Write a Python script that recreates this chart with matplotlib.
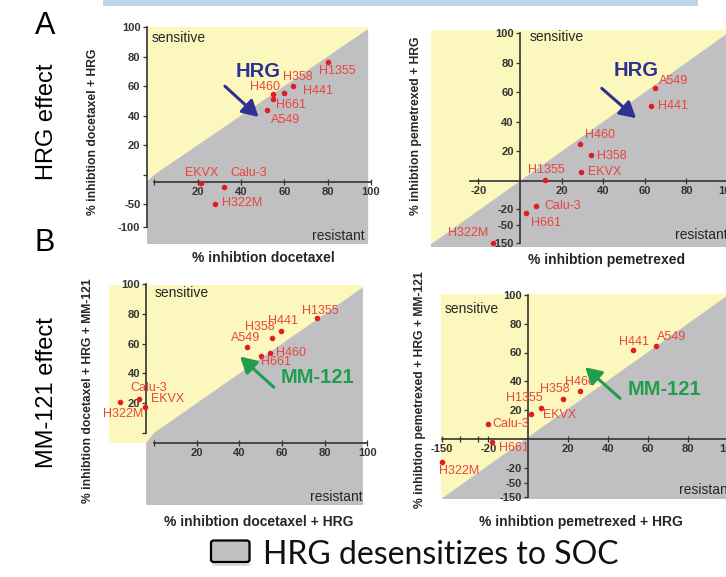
import numpy as np
import matplotlib.pyplot as plt
from matplotlib.patches import Polygon, Rectangle, FancyBboxPatch

plt.rcParams['font.family'] = ['Liberation Sans', 'DejaVu Sans']

W, H = 726, 577

cells = ['H1355', 'H441', 'H358', 'H460', 'H661', 'A549', 'EKVX', 'Calu-3', 'H322M']

# A: HRG effect
docetaxel = [80, 64, 60, 55, 55, 52, 21.5, 32, 28]
docetaxel_hrg = [76, 60, 55.5, 54.5, 51, 44, -3.5, -13, -50]
pemetrexed = [12, 63, 34, 29, 3, 65, 29.5, 7.5, -13]
pemetrexed_hrg = [1, 51, 17.5, 25, -27, 63, 6, -18, -150]

# B: MM-121 effect
docetaxel_hrg_b = [76.5, 59.5, 55.5, 54.5, 50, 43.5, -4.5, -7, -16]
docetaxel_hrg_mm = [77, 68.5, 64, 54, 51.5, 58, 17.5, 23, 21]
pemetrexed_hrg_b = [1.5, 52.5, 17.5, 26, -18, 64, 6.5, -22, -150]
pemetrexed_hrg_mm = [17, 61.5, 27.5, 33.5, -2.5, 64.5, 21.5, 10.5, -15.5]

YELLOW = '#fbf7bd'
GRAY = '#c0c0c2'
DOT = '#e31b23'
LAB = '#e8453c'
INK = '#262626'
NAVY = '#2e3192'
GREEN = '#1f9e4e'


def piecewise(dp, sp):
    def make(a, b):
        a = np.asarray(a, float)
        b = np.asarray(b, float)

        def f(v):
            v = np.asarray(v, float)
            out = np.interp(v, a, b)
            lo = b[0] + (v - a[0]) * (b[1] - b[0]) / (a[1] - a[0])
            hi = b[-1] + (v - a[-1]) * (b[-1] - b[-2]) / (a[-1] - a[-2])
            return np.where(v < a[0], lo, np.where(v > a[-1], hi, out))
        return f
    return make(dp, sp), make(sp, dp)


def fp(x, y):
    return (x / W, 1 - y / H)


# label offsets in pixels (dx, dy, ha), one per cell line
off_al = [(-9, -9, 'left'), (10, -4.5, 'left'), (-1, 15.5, 'left'), (6.7, 7.3, 'right'),
          (3, -5.7, 'left'), (4, -10, 'left'), (1, 10.5, 'center'), (6.7, 14.8, 'left'),
          (7, 1.5, 'left')]
off_ar = [(1.6, 9.8, 'center'), (7.3, 0, 'left'), (6.7, -1, 'left'), (5, 9, 'left'),
          (5, -10.6, 'left'), (3.3, 6.7, 'left'), (6.7, 0, 'left'), (8.3, 0, 'left'),
          (-5, 10, 'right')]
off_bl = [(3.3, 7.8, 'center'), (2, 10.5, 'center'), (1.7, 10.3, 'right'), (5.6, -0.8, 'left'),
          (0.6, -6, 'left'), (-1.3, 8.8, 'center'), (6.7, 7.5, 'left'), (-9.3, 10.3, 'left'),
          (2.8, -12.3, 'center')]
off_br = [(-6.5, 16, 'center'), (0.7, 8.5, 'center'), (-8.8, 10.6, 'center'), (0, 9, 'center'),
          (6.7, -6, 'left'), (1, 9.3, 'left'), (1.7, -7, 'left'), (5, 0, 'left'),
          (-2.7, -9.7, 'left')]

panels = [
    dict(box=(146.7, 371, 27, 244), x0=154.4, xu=2.195, y0=174.6, yu=1.479,
         xs=([0, 100], [0, 100]), ys=([-100, -1, 0, 100], [-35.2, -4.9, 0, 100]),
         x=docetaxel, y=docetaxel_hrg, off=off_al, kind='gap',
         lspine=(-3.5, (-100, 100)), bspine=(-1, (0, 100)),
         xt=[0, 20, 40, 60, 80, 100], xtl=['', '20', '40', '60', '80', '100'],
         yt=[-100, -50, 0, 20, 40, 60, 80, 100],
         ytl=['-100', '-50', '', '20', '40', '60', '80', '100'],
         arrow=((32.6, 59.9), (48.1, 39.1)), atext=(48.1, 70), aname='HRG', acol=NAVY),
    dict(box=(430.7, 745, 30, 247), x0=520, xu=2.08, y0=181, yu=1.48,
         xs=([0, 100], [0, 100]), ys=([-150, -50, -20, 0, 100], [-41.9, -29.7, -18.9, 0, 100]),
         x=pemetrexed, y=pemetrexed_hrg, off=off_ar, kind='full',
         lspine=(0, (-150, 100)), bspine=(0, (-24, 115)),
         xt=[-20, 20, 40, 60, 80, 100], xtl=['-20', '20', '40', '60', '80', '100'],
         yt=[-150, -50, -20, 20, 40, 60, 80, 100],
         ytl=['-150', '-50', '-20', '20', '40', '60', '80', '100'],
         arrow=((39.3, 62.6), (55.8, 42.4)), atext=(55.8, 75), aname='HRG', acol=NAVY),
    dict(box=(109.3, 367.3, 284.3, 505), x0=155, xu=2.1675, y0=432.5, yu=1.4925,
         xs=([0, 100], [0, 100]), ys=([-100, -1, 0, 100], [-36.9, -6.6, 0, 100]),
         x=docetaxel_hrg_b, y=docetaxel_hrg_mm, off=off_bl, kind='gap',
         lspine=(-3.8, (0, 100)), bspine=(-1, (0, 100)),
         xt=[0, 20, 40, 60, 80, 100], xtl=['', '20', '40', '60', '80', '100'],
         yt=[0, 20, 40, 60, 80, 100], ytl=['', '20', '40', '60', '80', '100'],
         arrow=((56.1, 30.7), (40.3, 51.3)), atext=(76.4, 37.2), aname='MM-121', acol=GREEN),
    dict(box=(440.7, 745, 294.3, 499.3), x0=528.3, xu=2.0, y0=438.75, yu=1.4375,
         xs=([-150, -20, 0, 100], [-43.3, -20, 0, 100]),
         ys=([-150, -50, -20, 0, 100], [-40.7, -30.6, -20.6, 0, 100]),
         x=pemetrexed_hrg_b, y=pemetrexed_hrg_mm, off=off_br, kind='full',
         lspine=(0, (-150, 100)), bspine=(0, (-150, 115)),
         xt=[-150, -20, 20, 40, 60, 80, 100], xtl=['-150', '-20', '20', '40', '60', '80', '100'],
         yt=[-150, -50, -20, 20, 40, 60, 80, 100],
         ytl=['-150', '-50', '-20', '20', '40', '60', '80', '100'],
         arrow=((45.9, 28.1), (28.4, 49.7)), atext=(67.9, 34.6), aname='MM-121', acol=GREEN),
]

fig = plt.figure(figsize=(W / 100, H / 100), dpi=100)

for p in panels:
    l, r, t, b = p['box']
    ax = fig.add_axes([l / W, 1 - b / H, (r - l) / W, (b - t) / H])
    ax.patch.set_visible(False)
    fx, ix = piecewise(*p['xs'])
    fy, iy = piecewise(*p['ys'])
    ax.set_xscale('function', functions=(fx, ix))
    ax.set_yscale('function', functions=(fy, iy))
    sxl, sxr = (l - p['x0']) / p['xu'], (r - p['x0']) / p['xu']
    syt, syb = (p['y0'] - t) / p['yu'], (p['y0'] - b) / p['yu']
    ax.set_xlim(float(ix(sxl)), float(ix(sxr)))
    ax.set_ylim(float(iy(syb)), float(iy(syt)))

    def to_data(pts):
        return [(float(ix(a)), float(iy(c))) for a, c in pts]

    d = min(sxr, syt)
    top_right = [(d, d)] + ([(sxr, syt)] if d < sxr else [])
    if p['kind'] == 'gap':
        sy_gap = float(fy(-1))
        sx_sp = float(fx(p['lspine'][0]))
        yel = [(sxl, sy_gap), (sxl, syt), (sxr, syt), (sxr, sy_gap)]
        gry = [(sx_sp, syb), (sx_sp, sy_gap), (0, 0)] + top_right + [(sxr, syb)]
    else:
        yel = [(sxl, syb), (sxl, syt), (sxr, syt), (sxr, syb)]
        gry = [(sxl, syb), (sxl, max(sxl, syb))] + top_right + [(sxr, syb)]
    ax.add_patch(Polygon(to_data(yel), closed=True, fc=YELLOW, ec='none', zorder=0))
    ax.add_patch(Polygon(to_data(gry), closed=True, fc=GRAY, ec='none', zorder=0.5))

    for s in ['top', 'right']:
        ax.spines[s].set_visible(False)
    ax.spines['left'].set_position(('data', p['lspine'][0]))
    ax.spines['left'].set_bounds(*p['lspine'][1])
    ax.spines['bottom'].set_position(('data', p['bspine'][0]))
    ax.spines['bottom'].set_bounds(*p['bspine'][1])
    for s in ['left', 'bottom']:
        ax.spines[s].set_color('#333333')
        ax.spines[s].set_linewidth(1.2)

    ax.set_xticks(p['xt'], labels=p['xtl'], fontweight='bold')
    ax.set_yticks(p['yt'], labels=p['ytl'], fontweight='bold')
    if p['kind'] == 'full' and p['xs'][0][0] < -100:
        ax.set_xticks([-100, -50], minor=True)
    ax.tick_params(which='both', length=3, width=0.9, color='#333333',
                   labelsize=8, labelcolor='#333333', pad=1.5)
    ax.tick_params(axis='x', which='both', direction='inout', length=4)

    ax.scatter(p['x'], p['y'], s=16, c=DOT, linewidths=0, zorder=4, clip_on=False)
    for name, xv, yv, (dx, dy, ha) in zip(cells, p['x'], p['y'], p['off']):
        ax.annotate(name, (xv, yv), xytext=(dx * 0.72, dy * 0.72), textcoords='offset points',
                    ha=ha, va='center', color=LAB, fontsize=9, zorder=5)

    ax.annotate('', xy=p['arrow'][1], xytext=p['arrow'][0],
                arrowprops=dict(arrowstyle='-|>,head_length=0.8,head_width=0.45',
                                color=p['acol'], lw=2.2, shrinkA=0, shrinkB=0,
                                mutation_scale=12), zorder=6)
    ax.text(*p['atext'], p['aname'], color=p['acol'], fontsize=14.5, fontweight='bold',
            ha='center', va='center', zorder=6)

# corner texts
for (x, y, ha, s) in [(151.7, 38, 'left', 'sensitive'), (530, 37, 'left', 'sensitive'),
                      (155, 293, 'left', 'sensitive'), (445, 308.7, 'left', 'sensitive'),
                      (365, 235.5, 'right', 'resistant'), (675, 235, 'left', 'resistant'),
                      (363, 497, 'right', 'resistant'), (679, 490, 'left', 'resistant')]:
    fig.text(*fp(x, y), s, ha=ha, va='center', fontsize=10, color=INK)

# axis titles
bold = dict(fontweight='bold', color=INK, ha='center', va='center')
fig.text(*fp(263, 258.3), '% inhibtion docetaxel', fontsize=10, **bold)
fig.text(*fp(607, 260), '% inhibtion pemetrexed', fontsize=10, **bold)
fig.text(*fp(258.5, 521.7), '% inhibtion docetaxel + HRG', fontsize=10, **bold)
fig.text(*fp(581, 521.7), '% inhibtion pemetrexed + HRG', fontsize=10, **bold)
fig.text(*fp(92.5, 132), '% inhibtion docetaxel + HRG', fontsize=8.7, rotation=90, **bold)
fig.text(*fp(416, 126), '% inhibtion pemetrexed + HRG', fontsize=8.7, rotation=90, **bold)
fig.text(*fp(88, 391), '% inhibtion docetaxel + HRG + MM-121', fontsize=8.7, rotation=90, **bold)
fig.text(*fp(420, 390), '% inhibtion pemetrexed + HRG + MM-121', fontsize=8.7, rotation=90, **bold)

# panel letters and row titles
fig.text(*fp(45, 26), 'A', fontsize=22, ha='center', va='center', color='black')
fig.text(*fp(45, 243), 'B', fontsize=22, ha='center', va='center', color='black')
fig.text(*fp(47, 122), 'HRG effect', fontsize=17, rotation=90, ha='center', va='center')
fig.text(*fp(47, 393), 'MM-121 effect', fontsize=17, rotation=90, ha='center', va='center')

# top banner strip
fig.patches.append(Rectangle(fp(103, 5.5), 595 / W, 5.5 / H, transform=fig.transFigure,
                             fc='#bcd6ea', ec='none'))

# legend box with shadow
fig.patches.append(FancyBboxPatch(fp(212, 566), 38.5 / W, 21.5 / H, transform=fig.transFigure,
                                  boxstyle='round,pad=0,rounding_size=0.004',
                                  fc='#9a9a9a', ec='none', alpha=0.35))
fig.patches.append(FancyBboxPatch(fp(211, 562), 38.5 / W, 21.5 / H, transform=fig.transFigure,
                                  boxstyle='round,pad=0,rounding_size=0.004',
                                  fc='#c0c0c0', ec='black', lw=1.6))
fig.text(*fp(263, 555), 'HRG desensitizes to SOC', fontsize=23, ha='left', va='center',
         color='#111111', family=['Lato', 'DejaVu Sans'])

fig.savefig('out.png', dpi=100)
